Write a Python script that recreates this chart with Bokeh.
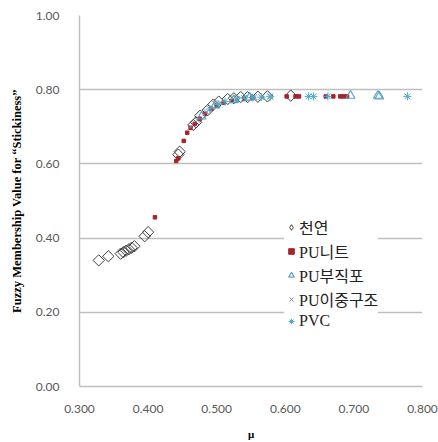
import math
from bokeh.plotting import figure
from bokeh.models import Range1d, FixedTicker, NumeralTickFormatter, Legend, LegendItem
from bokeh.embed import file_html
from bokeh.resources import INLINE

# 천연 (natural)
nat_x = [0.328, 0.342, 0.360, 0.364, 0.368, 0.372, 0.376, 0.380, 0.395, 0.400,
         0.444, 0.446, 0.466, 0.470, 0.476, 0.487, 0.495, 0.503, 0.516, 0.525,
         0.535, 0.545, 0.560, 0.574, 0.608]
nat_y = [0.340, 0.351, 0.358, 0.362, 0.366, 0.370, 0.374, 0.378, 0.405, 0.416,
         0.625, 0.633, 0.705, 0.712, 0.730, 0.745, 0.760, 0.768, 0.775, 0.777,
         0.780, 0.780, 0.781, 0.782, 0.784]
# PU니트
knit_x = [0.410, 0.441, 0.444, 0.452, 0.457, 0.462, 0.468, 0.475, 0.483, 0.492,
          0.500, 0.510, 0.522, 0.540, 0.552, 0.602, 0.615, 0.620, 0.659, 0.670,
          0.680, 0.685, 0.690]
knit_y = [0.456, 0.608, 0.615, 0.662, 0.684, 0.697, 0.708, 0.722, 0.735, 0.748,
          0.757, 0.765, 0.770, 0.776, 0.778, 0.782, 0.782, 0.782, 0.782, 0.782,
          0.782, 0.782, 0.782]
# PU부직포
nonwoven_x = [0.478, 0.498, 0.525, 0.548, 0.695, 0.735, 0.737]
nonwoven_y = [0.728, 0.758, 0.772, 0.779, 0.784, 0.784, 0.782]
# PU이중구조
double_x = [0.462, 0.472, 0.485, 0.505, 0.530, 0.555, 0.578]
double_y = [0.700, 0.718, 0.740, 0.765, 0.775, 0.780, 0.782]
# PVC
pvc_x = [0.490, 0.502, 0.512, 0.528, 0.540, 0.552, 0.565, 0.578, 0.634, 0.641, 0.662, 0.778]
pvc_y = [0.748, 0.760, 0.768, 0.775, 0.778, 0.779, 0.780, 0.781, 0.782, 0.782, 0.782, 0.782]

x_ticks = [0.3, 0.4, 0.5, 0.6, 0.7, 0.8]
y_ticks = [0.0, 0.2, 0.4, 0.6, 0.8, 1.0]

p = figure(width=438, height=442, output_backend="svg", toolbar_location=None,
           x_range=Range1d(0.3, 0.8), y_range=Range1d(0.0, 1.0),
           min_border_left=79, min_border_right=16, min_border_top=15, min_border_bottom=54)
p.outline_line_color = None
p.background_fill_color = "white"
# an off-screen range used only for the legend swatch of the first series
p.extra_x_ranges = {"legend_only": Range1d(10, 11)}

p.xgrid.grid_line_color = None
p.ygrid.grid_line_color = "#bfbfbf"
p.ygrid.grid_line_width = 1.5

for ax in (p.xaxis[0], p.yaxis[0]):
    ax.axis_line_color = "#bfbfbf"
    ax.axis_line_width = 1.5
    ax.major_tick_line_color = None
    ax.minor_tick_line_color = None
    ax.major_label_text_font = "Lato"
    ax.major_label_text_font_size = "12px"
    ax.major_label_text_color = "#595959"
    ax.axis_label_text_font = "Liberation Serif"
    ax.axis_label_text_font_style = "bold"
    ax.axis_label_text_color = "#000000"

p.xaxis.ticker = FixedTicker(ticks=x_ticks)
p.xaxis.formatter = NumeralTickFormatter(format="0.000")
p.yaxis.ticker = FixedTicker(ticks=y_ticks)
p.yaxis.formatter = NumeralTickFormatter(format="0.00")
p.xaxis.major_label_standoff = 12
p.yaxis.major_label_standoff = 14
p.xaxis.axis_label = "μ"
p.xaxis.axis_label_text_font_size = "11px"
p.xaxis.axis_label_standoff = 12
p.yaxis.axis_label = "Fuzzy Membership Value for “Stickiness”"
p.yaxis.axis_label_text_font_size = "12.5px"
p.yaxis.axis_label_standoff = 9

r1 = p.scatter(nat_x, nat_y, marker="square", size=8, angle=math.pi / 4, fill_color=None,
               line_color="#404040", line_width=1)
r2 = p.scatter(knit_x, knit_y, marker="square", size=3.5, fill_color="#a8222a",
               line_color="#a8222a")
r3 = p.scatter(nonwoven_x, nonwoven_y, marker="triangle", size=9, fill_color=None,
               line_color="#5fa3c4", line_width=1.2)
r4 = p.scatter(double_x, double_y, marker="x", size=8, line_color="#8a7fb0", line_width=1)
r5 = p.scatter(pvc_x, pvc_y, marker="asterisk", size=8, line_color="#4bacc6", line_width=1)

# diamond swatch for the legend, drawn on the off-screen range (never visible in the frame)
l1 = p.scatter(nat_x[:1], nat_y[:1], marker="diamond", size=8, fill_color=None,
               line_color="#404040", line_width=1, x_range_name="legend_only")

legend = Legend(items=[
    LegendItem(label="천연", renderers=[l1]),
    LegendItem(label="PU니트", renderers=[r2]),
    LegendItem(label="PU부직포", renderers=[r3]),
    LegendItem(label="PU이중구조", renderers=[r4]),
    LegendItem(label="PVC", renderers=[r5]),
], location=(205, 55))
legend.label_text_font = "Liberation Serif, Noto Sans CJK KR"
legend.label_text_font_size = "16px"
legend.label_text_color = "#222222"
legend.glyph_width = 14
legend.glyph_height = 20
legend.label_height = 20
legend.label_standoff = 1
legend.spacing = 0
legend.padding = 5
legend.border_line_color = None
legend.background_fill_color = "white"
legend.background_fill_alpha = 1.0
p.add_layout(legend, "center")

open("out.html", "w").write(file_html(p, INLINE))
